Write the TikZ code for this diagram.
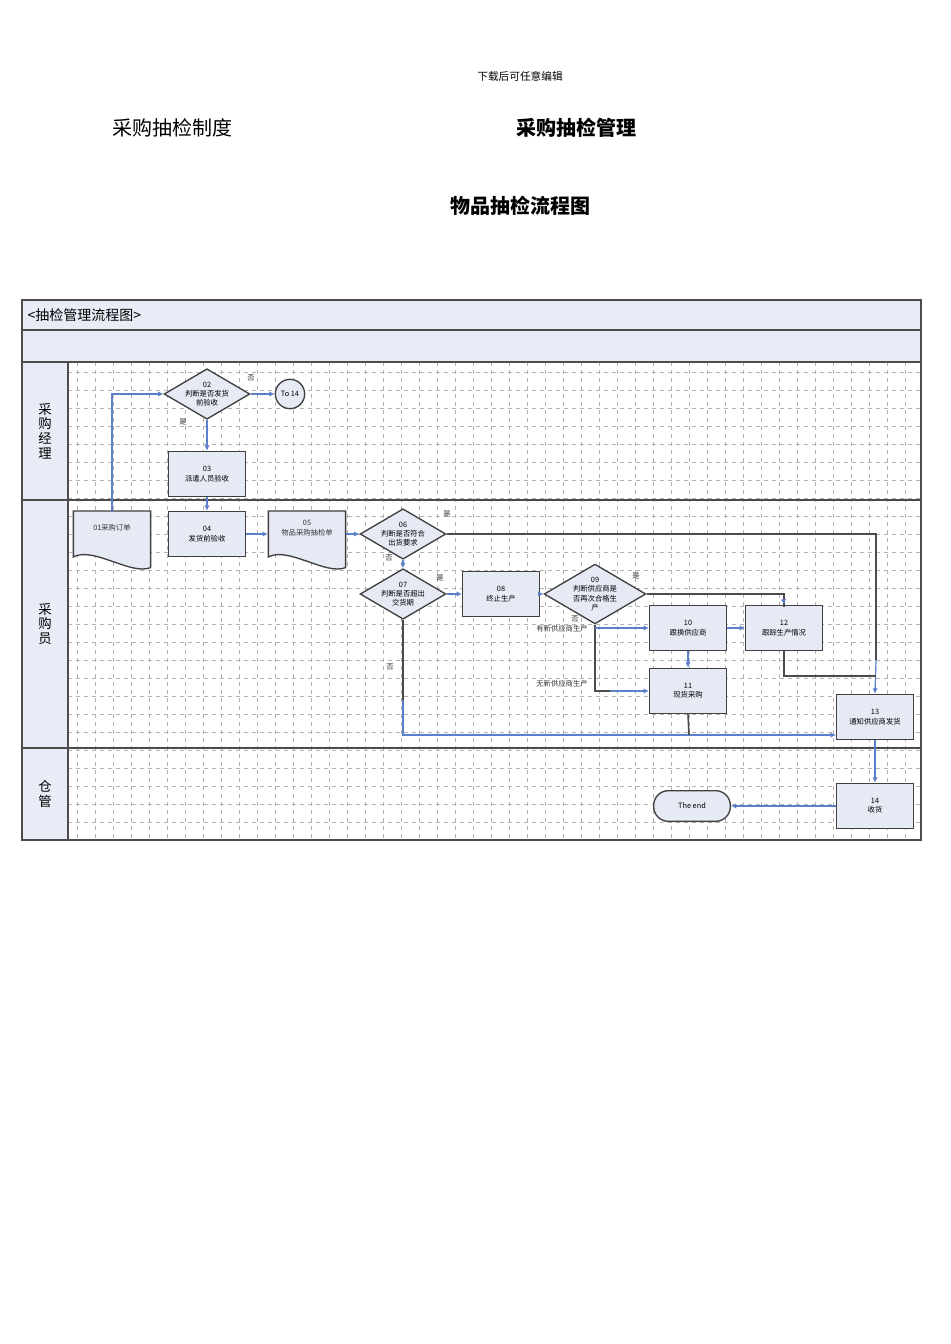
\documentclass[tikz,border=0pt]{standalone}
\usepackage{fontspec}
\setmainfont{Noto Sans CJK SC}
\usetikzlibrary{shapes.geometric,arrows.meta}
\definecolor{nfill}{HTML}{E6EAF5}
\definecolor{band}{HTML}{E8ECF6}
\definecolor{conn}{HTML}{5B7FC8}
\tikzset{
 box/.style={draw=black!75,line width=1pt,fill=nfill,minimum width=57.5pt,minimum height=34pt,inner sep=1pt,align=center,font=\fontsize{5.5}{7}\selectfont},
 dia/.style={diamond,draw=black!75,line width=1pt,fill=nfill,aspect=1.7,inner sep=0pt,minimum width=58pt,minimum height=34pt,align=center,font=\fontsize{5.5}{7}\selectfont},
 doc/.style={minimum width=57.5pt,minimum height=34pt,inner sep=1pt,align=center,font=\fontsize{5.5}{7}\selectfont},
 ar/.style={draw=conn,line width=0.9pt,-{Latex[length=4pt,width=4pt]}},
 ln/.style={draw=conn,line width=0.9pt},
 bl/.style={draw=black!70,line width=1.2pt},
 lab/.style={font=\fontsize{5.5}{7}\selectfont,text=black!80,inner sep=0pt},
}
\newcommand\mydoc[1]{%
 \fill[nfill] (#1.north west) -- (#1.north east) -- ([yshift=-8pt]#1.south east) .. controls ([xshift=-15pt,yshift=-14pt]#1.south east) and ([xshift=15pt,yshift=8pt]#1.south west) .. (#1.south west) -- cycle;
 \draw[black!75,line width=1pt] ([yshift=-8pt]#1.south east) -- (#1.north east) -- (#1.north west) -- (#1.south west) .. controls ([xshift=15pt,yshift=8pt]#1.south west) and ([xshift=-15pt,yshift=-14pt]#1.south east) .. ([yshift=-8pt]#1.south east);}
\begin{document}
\begin{tikzpicture}[x=0.75pt,y=-0.75pt]
\useasboundingbox[fill=white] (0,0) rectangle (950,1344);
% headings
\node[font=\fontsize{8}{9}\selectfont] (hd) at (520,76) {下载后可任意编辑};
\node[font=\fontsize{15}{16}\selectfont\addfontfeature{FakeBold=0}] (t1) at (172,128) {采购抽检制度};
\node[font=\fontsize{15}{16}\selectfont\bfseries] (t2) at (576,128) {采购抽检管理};
\node[font=\fontsize{15}{16}\selectfont\bfseries] (t3) at (520,206) {物品抽检流程图};
% frame
\fill[band] (22,300) rectangle (921,362);
\fill[band] (22,362) rectangle (68,840);
\foreach \x in {77,95,...,920} \draw[black!30,dashed,line width=0.4pt] (\x,362) -- (\x,840);
\foreach \y in {372,390,...,840} \draw[black!30,dashed,line width=0.4pt] (68,\y) -- (921,\y);
\draw[black!70,line width=0.8pt] (22,300) rectangle (921,840);
\draw[black!70,line width=0.8pt] (22,330) -- (921,330);
\draw[black!70,line width=0.8pt] (22,362) -- (921,362);
\draw[black!70,line width=1.2pt] (22,500) -- (921,500);
\draw[black!70,line width=1.2pt] (22,748) -- (921,748);
\draw[black!70,line width=0.8pt] (68,362) -- (68,840);
\node[anchor=west,font=\fontsize{10.5}{12}\selectfont] (ttl) at (23,315) {<抽检管理流程图>};
\node[font=\fontsize{10}{11}\selectfont,align=center] (l1) at (45,431) {采\\购\\经\\理};
\node[font=\fontsize{10}{11}\selectfont,align=center] (l2) at (45,624) {采\\购\\员};
\node[font=\fontsize{10}{11}\selectfont,align=center] (l3) at (45,794) {仓\\管};
% nodes
\node[dia] (n02) at (207,394) {02\\判断是否发货\\前验收};
\node[circle,draw=black!75,line width=1pt,fill=nfill,minimum size=22pt,inner sep=0pt,font=\fontsize{5.5}{7}\selectfont] (to14) at (290,394) {To 14};
\node[box] (n03) at (207,474) {03\\派遣人员验收};
\node[doc] (n01) at (112,534) {};
\mydoc{n01}
\node[lab] at (112,528) {01\\[-1pt]采购订单};
\node[box] (n04) at (207,534) {04\\发货前验收};
\node[doc] (n05) at (307,534) {};
\mydoc{n05}
\node[lab,align=center] at (307,528) {05\\物品采购抽检单};
\node[dia] (n06) at (403,534) {06\\判断是否符合\\出货要求};
\node[dia] (n07) at (403,594) {07\\判断是否超出\\交货期};
\node[box] (n08) at (501,594) {08\\终止生产};
\node[dia] (n09) at (595,594) {09\\判断供应商是\\否再次合格生\\产};
\node[box] (n10) at (688,628) {10\\跟换供应商};
\node[box] (n12) at (784,628) {12\\跟踪生产情况};
\node[box] (n11) at (688,691) {11\\现货采购};
\node[box] (n13) at (875,717) {13\\通知供应商发货};
\node[box] (n14) at (875,806) {14\\收货};
\node[draw=black!75,line width=1pt,fill=nfill,rounded corners=11pt,minimum width=57.5pt,minimum height=23pt,font=\fontsize{5.5}{7}\selectfont] (end) at (692,806) {The end};
% coordinates
\coordinate (c1) at (112,394);
\coordinate (c6) at (876,534);
\coordinate (c7) at (403,735);
\coordinate (c7e) at (836,735);
\coordinate (c11) at (689,735);
\coordinate (c9) at (784,594);
\coordinate (c9b) at (595,691);
\coordinate (c9m) at (595,628);
\coordinate (c12) at (784,676);
\coordinate (c12e) at (876,676);
% connectors
\draw[ar] (n01.north) -- (c1) -- (n02.west);
\draw[ar] (n02.east) -- (to14.west);
\draw[ar] (n02.south) -- (n03.north);
\draw[ar] (n03.south) -- (n04.north);
\draw[ar] (n04.east) -- (n05.east -| 268,534);
\draw[ar] (n05.east) -- (n06.west);
\draw[bl] (n06.east) -- (c6) -- (876,660);
\draw[ar] (876,660) -- (n13.north);
\draw[ar] (n06.south) -- (n07.north);
\draw[ar] (n07.east) -- (n08.west);
\draw[bl] (n07.south) -- (403,700);
\draw[ar] (403,700) -- (c7) -- (c7e);
\draw[ar] (n08.east) -- (n09.west);
\draw[bl] (n09.east) -- (c9) -- ([yshift=-2pt]n12.north);
\draw[ar] (783.5,600) -- (n12.north);
\draw[bl] (n09.south) -- (c9b) -- (610,691);
\draw[ar] (610,691) -- (n11.west);
\draw[ar] (c9m) -- (n10.west);
\draw[ar] (n10.east) -- (n12.west);
\draw[ar] (n10.south) -- (n11.north);
\draw[bl] (n11.south) -- (c11);
\draw[bl] (n12.south) -- (c12) -- (c12e);
\draw[ar] (n13.south) -- (n14.north);
\draw[ar] (n14.west) -- (end.east);
% labels
\node[lab] at (251,378) {否};
\node[lab] at (183,422) {是};
\node[lab] at (447,514) {是};
\node[lab] at (389,558) {否};
\node[lab] at (440,578) {是};
\node[lab] at (390,667) {否};
\node[lab] at (636,576) {是};
\node[lab] at (575,619) {否};
\node[lab] at (562,629) {有新供应商生产};
\node[lab] at (562,684) {无新供应商生产};
\end{tikzpicture}
\end{document}
